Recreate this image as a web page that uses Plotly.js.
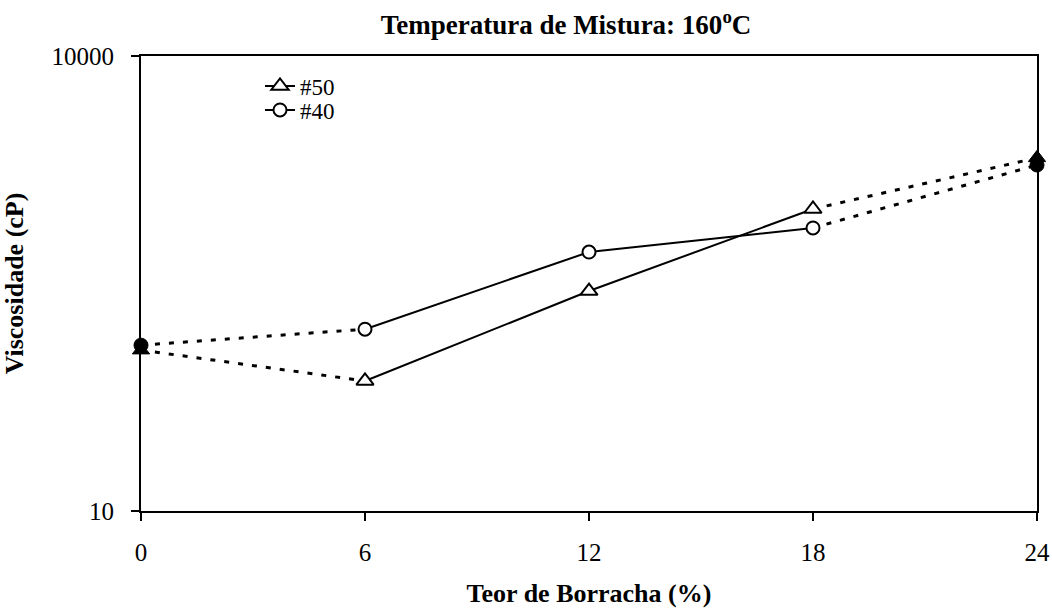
<!DOCTYPE html>
<html>
<head>
<meta charset="utf-8">
<script src="https://cdn.plot.ly/plotly-3.0.1.min.js"></script>
<style>html,body{margin:0;padding:0;background:#fff;}#chart{width:1052px;height:608px;}</style>
</head>
<body>
<div id="chart"></div>
<script>
// Data
const teor = [0, 6, 12, 18, 24];            // Teor de Borracha (%)
const visc50 = [115, 72, 282, 980, 2130];   // #50 viscosity (cP)
const visc40 = [124, 158, 510, 735, 1910];  // #40 viscosity (cP)
const seriesNames = ['#50', '#40'];
const yTickVals = [10, 10000];
const yTickText = ['10', '10000'];
const xTickVals = [0, 6, 12, 18, 24];

const FONT = '"Liberation Serif", "Times New Roman", serif';
const BLACK = '#000000';

function solid(x, y, name, symbol, legendId) {
  return {
    x: x.slice(1, 4), y: y.slice(1, 4), name: name, type: 'scatter', mode: 'lines+markers',
    line: {color: BLACK, width: 2}, cliponaxis: false,
    marker: {symbol: symbol, size: symbol === 'triangle-up' ? 15 : 13, color: '#ffffff', line: {color: BLACK, width: 2}},
    showlegend: true, legend: legendId, hoverinfo: 'x+y'
  };
}
function dotted(x, y, i0, i1) {
  return {
    x: [x[i0], x[i1]], y: [y[i0], y[i1]], type: 'scatter', mode: 'lines', cliponaxis: false,
    line: {color: BLACK, width: 3, dash: '5px,9px'}, showlegend: false, hoverinfo: 'skip'
  };
}
function filled(x, y, symbol) {
  return {
    x: [x[0], x[4]], y: [y[0], y[4]], type: 'scatter', mode: 'markers', cliponaxis: false,
    marker: {symbol: symbol, size: symbol === 'triangle-up' ? 15 : 14, color: BLACK, line: {color: BLACK, width: 1}},
    showlegend: false, hoverinfo: 'x+y'
  };
}

const data = [
  dotted(teor, visc50, 0, 1), dotted(teor, visc50, 3, 4),
  dotted(teor, visc40, 0, 1), dotted(teor, visc40, 3, 4),
  filled(teor, visc40, 'circle'), filled(teor, visc50, 'triangle-up'),
  solid(teor, visc50, seriesNames[0], 'triangle-up', 'legend'),
  solid(teor, visc40, seriesNames[1], 'circle', 'legend2')
];

const legendBase = {
  xanchor: 'left', yanchor: 'middle', bgcolor: 'rgba(0,0,0,0)', borderwidth: 0,
  font: {family: FONT, size: 23, color: BLACK}, itemwidth: 30
};

const layout = {
  width: 1052, height: 608,
  margin: {l: 141, r: 15, t: 56, b: 97},
  paper_bgcolor: '#ffffff', plot_bgcolor: '#ffffff',
  font: {family: FONT, color: BLACK, size: 25},
  title: {text: '<b>Temperatura de Mistura: 160<sup style="font-size:60%">o</sup>C</b>', font: {family: FONT, size: 27, color: BLACK},
          x: 566 / 1052, xref: 'container', xanchor: 'center', y: 1 - 25 / 608, yref: 'container', yanchor: 'middle'},
  xaxis: {
    type: 'linear', range: [0, 24], tickvals: xTickVals, ticktext: xTickVals.map(String),
    ticks: 'outside', ticklen: 8, tickwidth: 2, tickcolor: BLACK,
    showline: true, linewidth: 2, linecolor: BLACK, mirror: true,
    showgrid: false, zeroline: false, ticklabelstandoff: 10,
    tickfont: {family: FONT, size: 25, color: BLACK},
    title: {text: '<b>Teor de Borracha (%)</b>', font: {family: FONT, size: 26, color: BLACK}, standoff: 24}
  },
  yaxis: {
    type: 'log', range: [1, 4], tickvals: yTickVals, ticktext: yTickText,
    ticks: 'outside', ticklen: 8, tickwidth: 2, tickcolor: BLACK,
    showline: true, linewidth: 2, linecolor: BLACK, mirror: true,
    showgrid: false, zeroline: false, ticklabelstandoff: 12,
    tickfont: {family: FONT, size: 25, color: BLACK},
    title: {text: '<b>Viscosidade (cP)</b>', font: {family: FONT, size: 26, color: BLACK}, standoff: 34}
  },
  legend: Object.assign({x: (260 - 141) / 896, y: 1 - (86 - 56) / 455}, legendBase),
  legend2: Object.assign({x: (260 - 141) / 896, y: 1 - (110 - 56) / 455}, legendBase),
  showlegend: true
};

Plotly.newPlot('chart', data, layout, {displayModeBar: false, staticPlot: true});
</script>
</body>
</html>
